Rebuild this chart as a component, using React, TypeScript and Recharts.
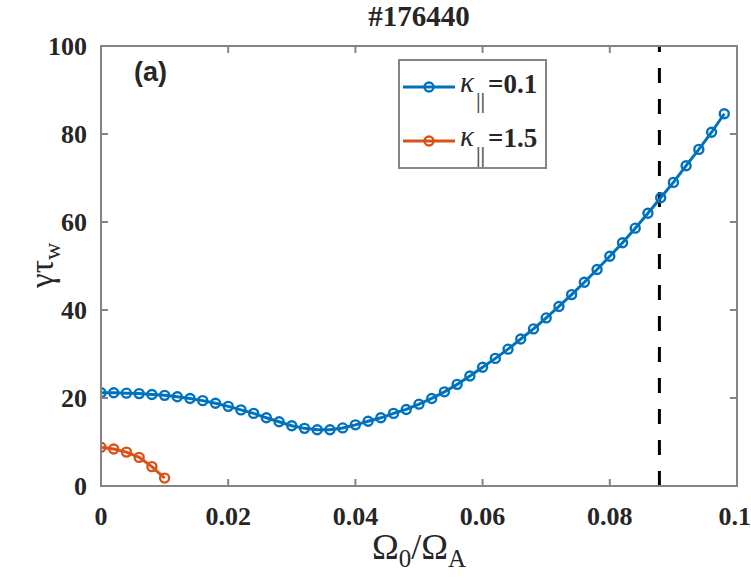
import { LineChart, Line, XAxis, YAxis, ReferenceLine, Legend } from 'recharts';

// rotation frequency (x) and growth rate (y) for the two parallel-diffusion cases
const omegaKappa01 = [
  0, 0.002, 0.004, 0.006, 0.008, 0.01, 0.012, 0.014, 0.016, 0.018,
  0.02, 0.022, 0.024, 0.026, 0.028, 0.03, 0.032, 0.034, 0.036, 0.038,
  0.04, 0.042, 0.044, 0.046, 0.048, 0.05, 0.052, 0.054, 0.056, 0.058,
  0.06, 0.062, 0.064, 0.066, 0.068, 0.07, 0.072, 0.074, 0.076, 0.078,
  0.08, 0.082, 0.084, 0.086, 0.088, 0.09, 0.092, 0.094, 0.096, 0.098,
];
const gammaKappa01 = [
  21.2, 21.2, 21.1, 21.0, 20.8, 20.6, 20.3, 19.9, 19.4, 18.8,
  18.1, 17.3, 16.5, 15.5, 14.6, 13.7, 13.1, 12.8, 12.8, 13.2,
  13.9, 14.7, 15.5, 16.5, 17.4, 18.6, 19.9, 21.4, 23.1, 25.0,
  27.0, 29.0, 31.1, 33.4, 35.7, 38.2, 40.8, 43.5, 46.3, 49.2,
  52.2, 55.3, 58.6, 62.0, 65.5, 69.0, 72.8, 76.5, 80.4, 84.6,
];
const omegaKappa15 = [0, 0.002, 0.004, 0.006, 0.008, 0.01];
const gammaKappa15 = [8.8, 8.4, 7.7, 6.5, 4.4, 1.8];

const xTicks = [0, 0.02, 0.04, 0.06, 0.08, 0.1];
const yTicks = [0, 20, 40, 60, 80, 100];
const X_MIN = 0;
const X_MAX = 0.1;
const Y_MIN = 0;
const Y_MAX = 100;
const wallLimit = 0.0878;

const W = 751;
const H = 587;
// plot box: left edge = y axis width, bottom = x axis height
const Y_AXIS_W = 101;
const X_AXIS_H = 101;
const TOP = 46;
const RIGHT = 14;
const PLOT_W = W - Y_AXIS_W - RIGHT;
const PLOT_H = H - TOP - X_AXIS_H;
const TICK_LEN = 7;
const LEG = { left: 399, top: 60, width: 147, height: 108 };

const BLUE = '#0072BD';
const ORANGE = '#D95319';
const AXIS = '#858585';
const TEXT = '#262626';
const SERIF = '"Liberation Serif", "DejaVu Serif", serif';

const blueData = omegaKappa01.map((x, i) => ({ x, y: gammaKappa01[i] }));
const orangeData = omegaKappa15.map((x, i) => ({ x, y: gammaKappa15[i] }));

const tickStyle = { fontFamily: SERIF, fontWeight: 'bold' as const, fontSize: 26, fill: TEXT };

const formatX = (v: number) => (v === 0 ? '0' : String(Number(v.toFixed(2))));

const xPos = (v: number) => Y_AXIS_W + ((v - X_MIN) / (X_MAX - X_MIN)) * PLOT_W;
const yPos = (v: number) => TOP + PLOT_H - ((v - Y_MIN) / (Y_MAX - Y_MIN)) * PLOT_H;

// legend layer also carries the MATLAB-style box with inward ticks
function LegendLayer({ payload }: any) {
  const items = payload || [];
  const L = Y_AXIS_W;
  const T = TOP;
  const R = Y_AXIS_W + PLOT_W;
  const B = TOP + PLOT_H;
  return (
    <svg width={W} height={H} style={{ display: 'block', pointerEvents: 'none' }}>
      {/* frame */}
      <rect x={L - 1} y={T - 1} width={PLOT_W + 2} height={2} fill={AXIS} />
      <rect x={L - 1} y={B - 1} width={PLOT_W + 2} height={2} fill={AXIS} />
      <rect x={L - 1} y={T - 1} width={2} height={PLOT_H + 2} fill={AXIS} />
      <rect x={R - 1} y={T - 1} width={2} height={PLOT_H + 2} fill={AXIS} />
      {xTicks.map((t) => (
        <g key={`x${t}`}>
          <rect x={xPos(t) - 1} y={B - TICK_LEN} width={2} height={TICK_LEN} fill={AXIS} />
          <rect x={xPos(t) - 1} y={T} width={2} height={TICK_LEN} fill={AXIS} />
        </g>
      ))}
      {yTicks.map((t) => (
        <g key={`y${t}`}>
          <rect x={L} y={yPos(t) - 1} width={TICK_LEN} height={2} fill={AXIS} />
          <rect x={R - TICK_LEN} y={yPos(t) - 1} width={TICK_LEN} height={2} fill={AXIS} />
        </g>
      ))}

      {/* legend box */}
      <rect
        x={LEG.left}
        y={LEG.top}
        width={LEG.width}
        height={LEG.height}
        fill="#fff"
        stroke={AXIS}
        strokeWidth={2}
      />
      {items.map((item: any, i: number) => {
        const cy = LEG.top + 27 + i * 54;
        const x0 = LEG.left;
        const kappa = item.value === 'kappa01' ? '=0.1' : '=1.5';
        return (
          <g key={item.value}>
            <line x1={x0 + 4} x2={x0 + 56} y1={cy} y2={cy} stroke={item.color} strokeWidth={3} />
            <circle cx={x0 + 30} cy={cy} r={4.5} fill="none" stroke={item.color} strokeWidth={2.4} />
            <text x={x0 + 61} y={cy + 5} fontFamily={SERIF} fontSize={29} fill={TEXT} fontStyle="italic">
              κ
            </text>
            <text x={x0 + 77} y={cy + 21} fontFamily={SERIF} fontSize={21} fontWeight="bold" fill="#555">
              ||
            </text>
            <text x={x0 + 89} y={cy + 6} fontFamily={SERIF} fontSize={27} fontWeight="bold" fill={TEXT}>
              {kappa}
            </text>
          </g>
        );
      })}
    </svg>
  );
}

export default function App() {
  const ids = { xAxisId: 'bottom', yAxisId: 'left' };
  return (
    <div style={{ position: 'absolute', left: 0, top: 0, width: W, height: H, background: '#fff' }}>
      <LineChart
        width={W}
        height={H}
        margin={{ top: TOP, right: RIGHT, bottom: 0, left: 0 }}
      >
        <XAxis
          xAxisId="bottom"
          dataKey="x"
          type="number"
          domain={[X_MIN, X_MAX]}
          ticks={xTicks}
          tickFormatter={formatX}
          allowDataOverflow
          height={X_AXIS_H}
          axisLine={false}
          tickLine={false}
          tickMargin={15}
          tick={tickStyle}
        />
        <YAxis
          yAxisId="left"
          type="number"
          domain={[Y_MIN, Y_MAX]}
          ticks={yTicks}
          width={Y_AXIS_W}
          axisLine={false}
          tickLine={false}
          tickMargin={8}
          tick={tickStyle}
        />
        <ReferenceLine
          {...ids}
          x={wallLimit}
          stroke="#000"
          strokeWidth={3}
          strokeDasharray="15 16"
        />
        <Line
          {...ids}
          data={blueData}
          dataKey="y"
          name="kappa01"
          stroke={BLUE}
          strokeWidth={3}
          dot={{ r: 4.5, stroke: BLUE, strokeWidth: 2.4, fill: 'none' }}
          isAnimationActive={false}
        />
        <Line
          {...ids}
          data={orangeData}
          dataKey="y"
          name="kappa15"
          stroke={ORANGE}
          strokeWidth={3}
          dot={{ r: 4.5, stroke: ORANGE, strokeWidth: 2.4, fill: 'none' }}
          isAnimationActive={false}
        />
        <Legend
          layout="horizontal"
          verticalAlign="middle"
          align="center"
          content={<LegendLayer />}
          wrapperStyle={{ left: 0, top: 0, width: W, height: H, pointerEvents: 'none' }}
        />
      </LineChart>

      {/* title */}
      <div
        style={{
          position: 'absolute',
          left: 309,
          width: 220,
          top: 0,
          textAlign: 'center',
          fontFamily: SERIF,
          fontWeight: 'bold',
          fontSize: 29,
          lineHeight: '32px',
          color: TEXT,
        }}
      >
        #176440
      </div>

      {/* panel tag */}
      <div
        style={{
          position: 'absolute',
          left: 134,
          top: 57,
          fontFamily: '"Liberation Sans", Arial, sans-serif',
          fontWeight: 'bold',
          fontSize: 27,
          color: TEXT,
        }}
      >
        (a)
      </div>

      {/* y label */}
      <div
        style={{
          position: 'absolute',
          left: -10,
          top: 244,
          width: 110,
          textAlign: 'center',
          transform: 'rotate(-90deg)',
          fontFamily: SERIF,
          fontSize: 33,
          color: TEXT,
        }}
      >
        γτ<sub style={{ fontSize: 24 }}>w</sub>
      </div>

      {/* x label */}
      <div
        style={{
          position: 'absolute',
          left: 309,
          width: 220,
          top: 526,
          textAlign: 'center',
          fontFamily: SERIF,
          fontSize: 36,
          color: TEXT,
        }}
      >
        Ω<sub style={{ fontSize: 25 }}>0</sub>/Ω<sub style={{ fontSize: 25 }}>A</sub>
      </div>
    </div>
  );
}
